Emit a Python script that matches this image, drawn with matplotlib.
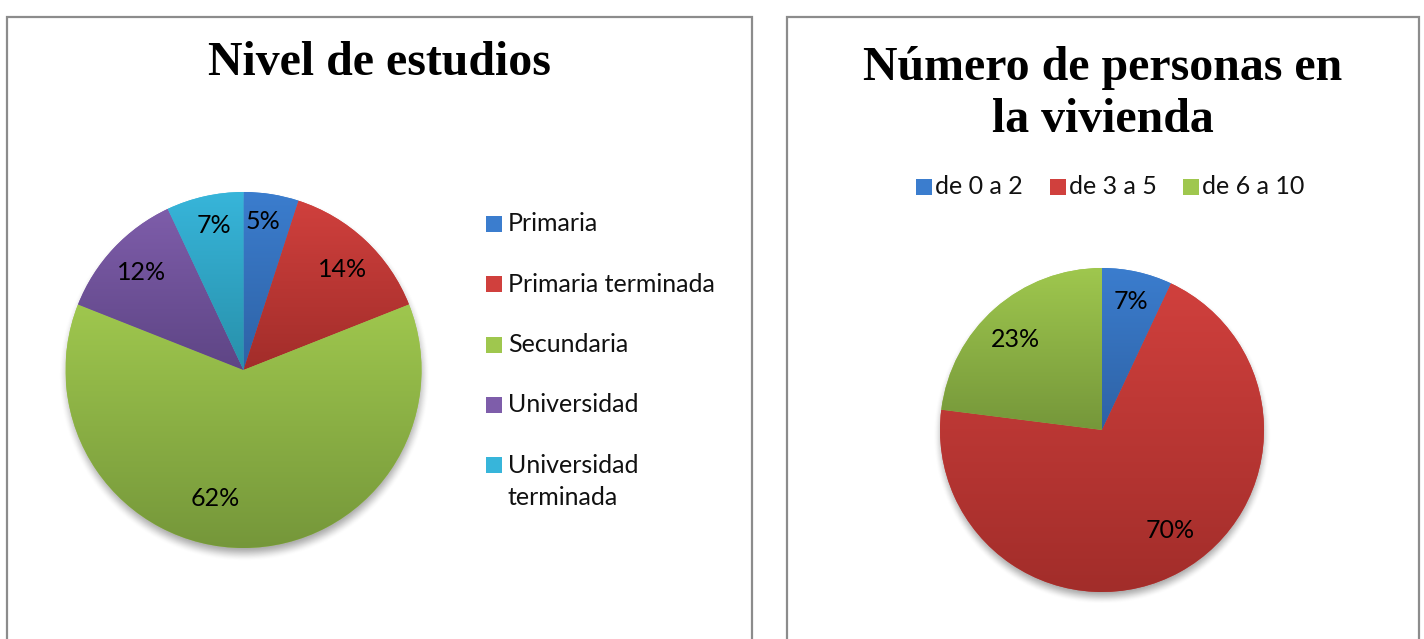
import numpy as np
import matplotlib
matplotlib.use("Agg")
import matplotlib.pyplot as plt
from matplotlib.patches import Rectangle
from matplotlib.colors import to_rgb

# ---------------- data ----------------
edu_title = "Nivel de estudios"
edu_labels = ["Primaria", "Primaria terminada", "Secundaria", "Universidad", "Universidad\nterminada"]
edu_values = [5, 14, 62, 12, 7]

hh_title = "Número de personas en\nla vivienda"
hh_labels = ["de 0 a 2", "de 3 a 5", "de 6 a 10"]
hh_values = [7, 70, 23]

# ---------------- style ----------------
W, H = 1424, 639
BLUE = ("#3B7DCE", "#2E62A5")
RED = ("#D0403D", "#A22D2A")
GREEN = ("#9FC74E", "#75973A")
PURPLE = ("#7E5DAA", "#5E4585")
CYAN = ("#37B5DA", "#2890AA")
edu_colors = [BLUE, RED, GREEN, PURPLE, CYAN]
hh_colors = [BLUE, RED, GREEN]

TITLE_FONT = dict(family="Liberation Serif", weight="bold", size=34.5)
BODY_FONT = ["Lato", "DejaVu Sans"]
BODY_SIZE = 18

fig = plt.figure(figsize=(W / 100, H / 100), dpi=100)


def fx(x):
    return x / W


def fy(y):
    return 1 - y / H


# panel borders (bottom edge falls outside the figure)
for x0, x1 in [(7, 752), (787, 1419)]:
    fig.add_artist(Rectangle((fx(x0), fy(700)), fx(x1 - x0), (700 - 17) / H,
                             transform=fig.transFigure, fill=False,
                             ec="#8c8c8c", lw=1.6))


def gradient_pie(cx, cy, r, values, colors, dists, offsets):
    pad = 1.25
    ax = fig.add_axes([fx(cx - r * pad), fy(cy + r * pad), fx(2 * r * pad), 2 * r * pad / H])
    wedges, _ = ax.pie(values, startangle=90, counterclock=False, radius=1,
                       colors=[c[0] for c in colors], wedgeprops=dict(linewidth=0))
    # soft shadow
    n = 500
    xs = np.linspace(-pad, pad, n)
    X, Y = np.meshgrid(xs, xs)
    D = np.hypot(X - 0.005, Y + 0.035)
    t = np.clip((1.045 - D) / 0.09, 0, 1)
    rgba = np.zeros((n, n, 4))
    rgba[..., :3] = 0.35
    rgba[..., 3] = 0.55 * t * t * (3 - 2 * t)
    ax.imshow(rgba, extent=(-pad, pad, -pad, pad), origin="lower", zorder=0.5,
              interpolation="bilinear")
    for w, (c1, c2) in zip(wedges, colors):
        w.set_zorder(1)
        ext = w.get_path().get_extents()
        g = np.linspace(0, 1, 256)[:, None, None]
        img = np.array(to_rgb(c1))[None, None, :] * (1 - g) + np.array(to_rgb(c2))[None, None, :] * g
        img = np.repeat(img, 2, axis=1)
        im = ax.imshow(img, extent=(ext.x0, ext.x1, ext.y0, ext.y1), origin="upper",
                       aspect="auto", zorder=1.5, interpolation="bilinear")
        im.set_clip_path(w)
    total = sum(values)
    for w, v, d, off in zip(wedges, values, dists, offsets):
        ang = np.deg2rad((w.theta1 + w.theta2) / 2 + off)
        ax.text(d * np.cos(ang), d * np.sin(ang), f"{round(100 * v / total)}%",
                ha="center", va="center", family=BODY_FONT, size=BODY_SIZE,
                color="black", zorder=3)
    ax.set_xlim(-pad, pad)
    ax.set_ylim(-pad, pad)
    ax.set_aspect("equal")
    ax.axis("off")
    return wedges


gradient_pie(243.5, 370, 178, edu_values, edu_colors,
             [0.84, 0.79, 0.74, 0.79, 0.83], [1.5, -1.4, -12.6, -0.5, -1.0])
gradient_pie(1102, 430, 162, hh_values, hh_colors,
             [0.81, 0.75, 0.77], [0, 5.4, 2.3])

# titles
fig.text(fx(379.5), fy(63), edu_title, ha="center", va="center", **TITLE_FONT)
fig.text(fx(1103), fy(94), hh_title, ha="center", va="center", linespacing=1.24, **TITLE_FONT)

# left legend
sq = 16
for i, (lab, col) in enumerate(zip(edu_labels, edu_colors)):
    yc = 224 + i * 60.3
    fig.add_artist(Rectangle((fx(486), fy(yc + sq / 2)), fx(sq), sq / H,
                             transform=fig.transFigure, fc=col[0], ec="none"))
    for j, line in enumerate(lab.split("\n")):
        fig.text(fx(508), fy(yc + j * 32), line, ha="left", va="center",
                 family=BODY_FONT, size=BODY_SIZE, color="#111111")

# right legend (horizontal)
for lab, col, xs_, xt in zip(hh_labels, hh_colors, [916, 1050, 1183], [935, 1069, 1202]):
    yc = 187
    fig.add_artist(Rectangle((fx(xs_), fy(yc + sq / 2)), fx(sq), sq / H,
                             transform=fig.transFigure, fc=col[0], ec="none"))
    fig.text(fx(xt), fy(yc), lab, ha="left", va="center",
             family=BODY_FONT, size=BODY_SIZE, color="#111111")

fig.savefig("out.png", dpi=100, facecolor="white")
